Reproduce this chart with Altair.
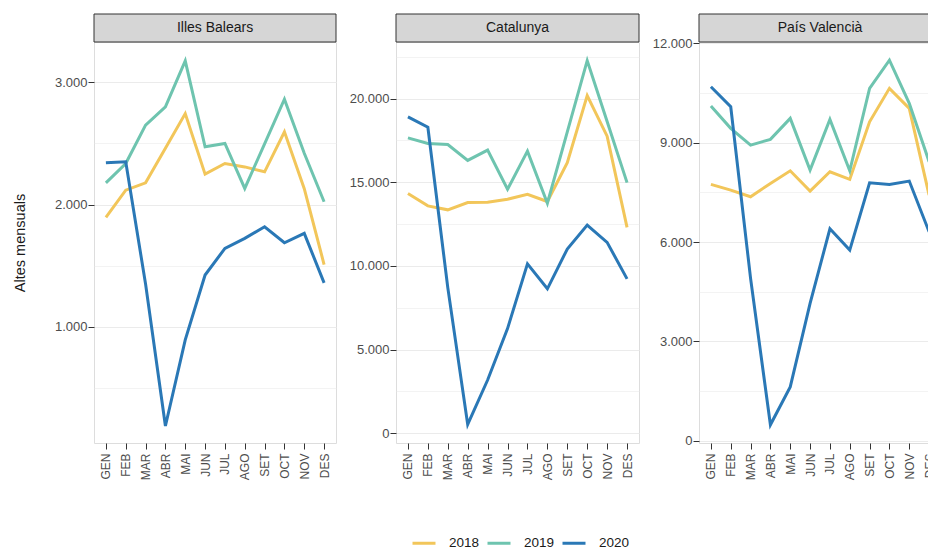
import altair as alt
import pandas as pd

mesos = ["GEN", "FEB", "MAR", "ABR", "MAI", "JUN", "JUL", "AGO", "SET", "OCT", "NOV", "DES"]
anys = ["2018", "2019", "2020"]
colors = ["#F2C65A", "#6EC4AF", "#2A78B6"]
regions = ["Illes Balears", "Catalunya", "País Valencià"]

balears_2018 = [1896, 2118, 2178, 2460, 2744, 2249, 2336, 2308, 2268, 2595, 2130, 1510]
balears_2019 = [2178, 2336, 2649, 2799, 3175, 2472, 2500, 2132, 2497, 2861, 2420, 2023]
balears_2020 = [2341, 2350, 1350, 190, 894, 1424, 1642, 1724, 1819, 1688, 1765, 1360]

catalunya_2018 = [14325, 13591, 13353, 13790, 13810, 13988, 14286, 13850, 16170, 20179, 17758, 12302]
catalunya_2019 = [17659, 17321, 17262, 16310, 16925, 14583, 16865, 13750, 18016, 22280, 18631, 14980]
catalunya_2020 = [18909, 18294, 8700, 520, 3175, 6250, 10119, 8631, 11012, 12440, 11409, 9226]

valencia_2018 = [7740, 7568, 7366, 7770, 8150, 7538, 8121, 7891, 9631, 10640, 10036, 7417]
valencia_2019 = [10106, 9432, 8927, 9100, 9734, 8172, 9700, 8150, 10640, 11490, 10187, 8423]
valencia_2020 = [10689, 10085, 4900, 480, 1625, 4145, 6400, 5755, 7789, 7740, 7840, 6308]

balears_ticks = [500, 1000, 1500, 2000, 2500, 3000]
catalunya_ticks = [0, 2500, 5000, 7500, 10000, 12500, 15000, 17500, 20000, 22500]
valencia_ticks = [0, 1500, 3000, 4500, 6000, 7500, 9000, 10500, 12000]

FONT = "Liberation Sans"
PLOT_H = 401


def panel(name, series, domain, ticks, major, width, show_title):
    rows = []
    for a, vals in zip(anys, series):
        for m, v in zip(mesos, vals):
            rows.append({"mes": m, "any": a, "valor": v})
    df = pd.DataFrame(rows)

    label_expr = (
        f"datum.value % {major} == 0 ? replace(format(datum.value, ',d'), ',', '.') : ''"
    )
    minor_test = f"datum.value % {major} != 0"
    yaxis_kwargs = dict(
        values=ticks,
        labelExpr=label_expr,
        tickOpacity={"condition": {"test": minor_test, "value": 0}, "value": 1},
        gridWidth={"condition": {"test": minor_test, "value": 0.6}, "value": 1.1},
        gridColor="#ebebeb",
        domain=False,
        tickColor="#333333",
        tickSize=6,
        labelColor="#4d4d4d",
        labelFontSize=13,
        labelPadding=1,
        labelFont=FONT,
    )
    if show_title:
        yaxis_kwargs.update(
            title="Altes mensuals",
            titleFont=FONT,
            titleFontSize=14.5,
            titleFontWeight="normal",
            titleColor="#1a1a1a",
            titlePadding=27,
        )
        ytitle = "Altes mensuals"
    else:
        ytitle = None

    lines = alt.Chart(df).mark_line(strokeWidth=3).encode(
        x=alt.X(
            "mes:N",
            sort=mesos,
            scale=alt.Scale(type="point", padding=0.6),
            axis=alt.Axis(
                labelAngle=270,
                labelAlign="right",
                labelBaseline="middle",
                gridColor="#ebebeb",
                gridWidth=1,
                domain=False,
                tickColor="#333333",
                tickSize=6,
                labelColor="#4d4d4d",
                labelFontSize=12,
                labelFont=FONT,
                labelPadding=4,
            ),
            title=None,
        ),
        y=alt.Y(
            "valor:Q",
            scale=alt.Scale(domain=domain, nice=False, zero=False),
            axis=alt.Axis(**yaxis_kwargs),
            title=ytitle,
        ),
        color=alt.Color(
            "any:N",
            scale=alt.Scale(domain=anys, range=colors),
            legend=alt.Legend(
                title=None,
                orient="none",
                direction="horizontal",
                legendX=317,
                legendY=488,
                symbolType="stroke",
                symbolStrokeWidth=3,
                symbolSize=529,
                labelOffset=12,
                labelFontSize=13.5,
                labelFont=FONT,
                labelColor="#1a1a1a",
                columnPadding=1,
            ),
        ),
        detail="any:N",
    )

    sdf = pd.DataFrame({"regio": [name]})
    strip = alt.Chart(sdf).mark_rect(fill="#d6d6d6", stroke="#333333", strokeWidth=1).encode(
        x=alt.value(0), x2=alt.value(width), y=alt.value(-28), y2=alt.value(0)
    )
    strip_text = alt.Chart(sdf).mark_text(
        fontSize=14, font=FONT, color="#1a1a1a"
    ).encode(x=alt.value(width / 2), y=alt.value(-14), text="regio:N")

    return alt.layer(lines, strip, strip_text).properties(width=width, height=PLOT_H)


p1 = panel(regions[0], [balears_2018, balears_2019, balears_2020], [51, 3329], balears_ticks, 1000, 242, True)
p2 = panel(regions[1], [catalunya_2018, catalunya_2019, catalunya_2020], [-590, 23390], catalunya_ticks, 5000, 243, False)
p3 = panel(regions[2], [valencia_2018, valencia_2019, valencia_2020], [-70, 12040], valencia_ticks, 3000, 242, False)

chart = alt.hconcat(p1, p2, p3, spacing=60, bounds="flush").properties(
    padding={"left": 3, "top": 5, "right": -14, "bottom": 5}
).configure_view(stroke="#333333", strokeWidth=1).configure(background="white")

chart.save("out.html", embed_options={"renderer": "svg", "actions": False})
